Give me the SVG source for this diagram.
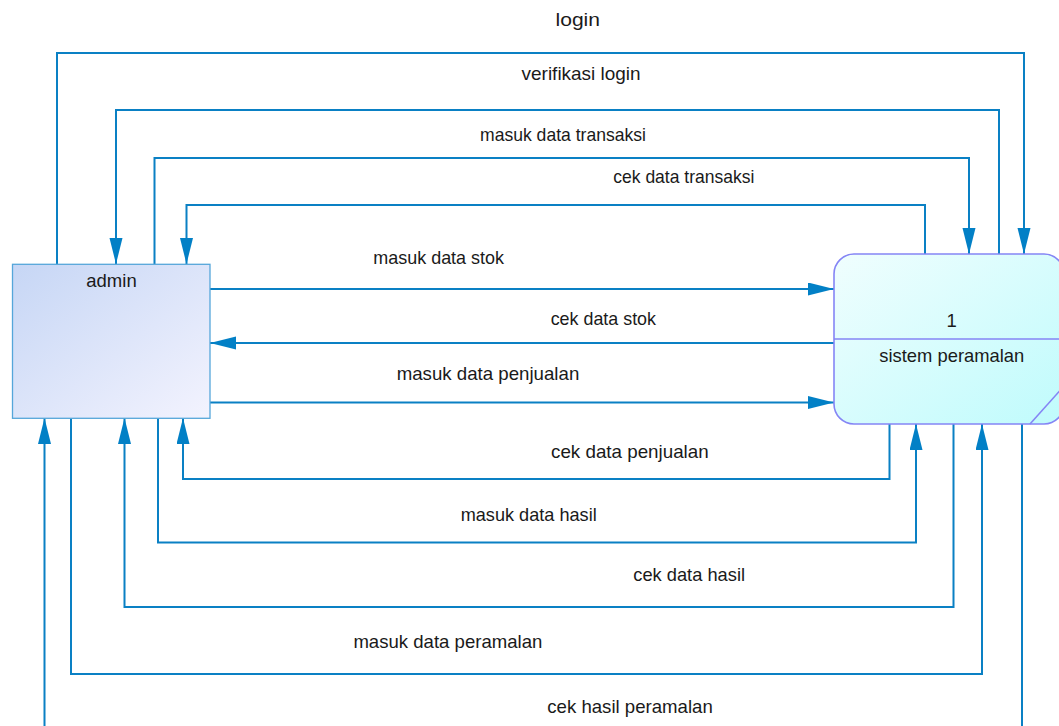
<svg xmlns="http://www.w3.org/2000/svg" width="1059" height="726" viewBox="0 0 1059 726">
<defs>
<linearGradient id="gAdmin" x1="0" y1="0" x2="1" y2="1">
<stop offset="0" stop-color="#c6d6f5"/>
<stop offset="1" stop-color="#f3f3fe"/>
</linearGradient>
<linearGradient id="gProc" x1="0" y1="0" x2="1" y2="1">
<stop offset="0" stop-color="#f0fefe"/>
<stop offset="1" stop-color="#bffbfc"/>
</linearGradient>
<marker id="arr" markerUnits="userSpaceOnUse" markerWidth="26" markerHeight="14" refX="26" refY="6.5" orient="auto">
<path d="M0,0 L26,6.5 L0,13 Z" fill="#0280c6"/>
</marker>
<style>
.c{fill:none;stroke:#0a80c4;stroke-width:2}
.a{marker-end:url(#arr)}
.t{font-family:"Liberation Sans",Arial,sans-serif;font-size:18.5px;fill:#1a1a1a}
.m{text-anchor:middle}
</style>
</defs>
<rect width="1059" height="726" fill="#ffffff"/>
<g id="connectors">
<path class="c a" d="M57,264 V53 H1024 V254"/>
<path class="c a" d="M999,254 V110 H116 V264"/>
<path class="c a" d="M154.5,264 V158 H969 V254"/>
<path class="c a" d="M925,254 V205 H186.5 V264"/>
<path class="c a" d="M210,289 H834"/>
<path class="c a" d="M834,343 H210"/>
<path class="c a" d="M210,402.5 H834"/>
<path class="c a" d="M889.5,424 V479 H183 V418"/>
<path class="c a" d="M158,418 V542.5 H916 V424"/>
<path class="c a" d="M953.5,424 V607 H124.5 V418"/>
<path class="c a" d="M71,418 V674 H982 V424"/>
<path class="c a" d="M1022,424 V760 H44.5 V418"/>
<text class="t" x="555.5" y="26" textLength="44.5" lengthAdjust="spacingAndGlyphs">login</text>
<text class="t" x="521.6" y="80" textLength="119" lengthAdjust="spacingAndGlyphs">verifikasi login</text>
<text class="t" x="480" y="140.5" textLength="166" lengthAdjust="spacingAndGlyphs">masuk data transaksi</text>
<text class="t" x="613.3" y="183" textLength="141" lengthAdjust="spacingAndGlyphs">cek data transaksi</text>
<text class="t" x="373.3" y="264" textLength="130.7" lengthAdjust="spacingAndGlyphs">masuk data stok</text>
<text class="t" x="550.7" y="325" textLength="105.3" lengthAdjust="spacingAndGlyphs">cek data stok</text>
<text class="t" x="396.7" y="379.5" textLength="182.6" lengthAdjust="spacingAndGlyphs">masuk data penjualan</text>
<text class="t" x="551" y="457.5" textLength="157.7" lengthAdjust="spacingAndGlyphs">cek data penjualan</text>
<text class="t" x="460.7" y="520.7" textLength="136" lengthAdjust="spacingAndGlyphs">masuk data hasil</text>
<text class="t" x="633.3" y="580.7" textLength="111.7" lengthAdjust="spacingAndGlyphs">cek data hasil</text>
<text class="t" x="353.4" y="648" textLength="189" lengthAdjust="spacingAndGlyphs">masuk data peramalan</text>
<text class="t" x="547.3" y="712.5" textLength="165.5" lengthAdjust="spacingAndGlyphs">cek hasil peramalan</text>
</g>
<g id="admin">
<rect x="12.5" y="264.3" width="197.5" height="154" fill="url(#gAdmin)" stroke="#55a6da" stroke-width="1.3"/>
<text class="t m" x="111.5" y="286.7">admin</text>
</g>
<g id="process1">
<path d="M854,254 H1044 A20,20 0 0 1 1064,274 V404 A20,20 0 0 1 1044,424 H854 A20,20 0 0 1 834,404 V274 A20,20 0 0 1 854,254 Z" fill="url(#gProc)" stroke="#8585f5" stroke-width="1.6"/>
<line x1="834" y1="339" x2="1064" y2="339" stroke="#8585f5" stroke-width="1.6"/>
<line x1="1030" y1="424" x2="1064" y2="386" stroke="#8585f5" stroke-width="1.6"/>
<text class="t m" x="951.7" y="327.3">1</text>
<text class="t" x="879.3" y="361.7" textLength="145" lengthAdjust="spacingAndGlyphs">sistem peramalan</text>
</g>
</svg>
